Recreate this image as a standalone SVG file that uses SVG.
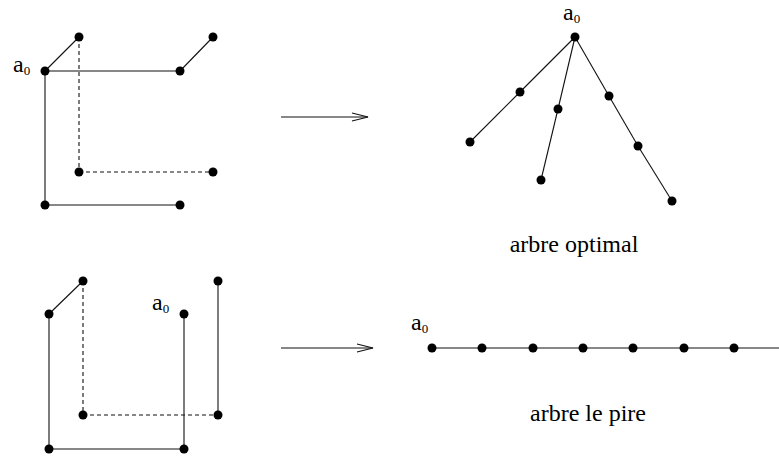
<svg xmlns="http://www.w3.org/2000/svg" width="779" height="456" viewBox="0 0 779 456">
  <style>
    .edge { stroke: #111; stroke-width: 1.1; fill: none; }
    .dash { stroke-dasharray: 4 3; }
    .dot { fill: #000; }
    .lbl { font-family: "Liberation Serif", "Times New Roman", serif; font-size: 24px; fill: #000; }
    .sub { font-size: 13px; }
    .cap { font-family: "Liberation Serif", "Times New Roman", serif; font-size: 24px; fill: #000; text-anchor: middle; }
  </style>
  <defs>
    <marker id="open-head" markerUnits="userSpaceOnUse" markerWidth="20" markerHeight="12" refX="16" refY="5" orient="auto" overflow="visible">
      <path d="M0,1 L16,5 L0,9" fill="none" stroke="#111" stroke-width="1.1"/>
    </marker>
  </defs>

  <!-- connectors -->
  <g id="connectors">
    <!-- graph 1 -->
    <line class="edge" x1="45" y1="71" x2="79" y2="37"/>
    <line class="edge" x1="45" y1="71" x2="180" y2="71"/>
    <line class="edge" x1="180" y1="71" x2="213" y2="37"/>
    <line class="edge" x1="45" y1="71" x2="45" y2="205"/>
    <line class="edge" x1="45" y1="205" x2="180" y2="205"/>
    <line class="edge dash" x1="79" y1="37" x2="79" y2="172"/>
    <line class="edge dash" x1="79" y1="172" x2="213" y2="172"/>
    <!-- optimal tree -->
    <line class="edge" x1="575" y1="37" x2="520" y2="92"/>
    <line class="edge" x1="520" y1="92" x2="470" y2="142"/>
    <line class="edge" x1="575" y1="37" x2="558" y2="109"/>
    <line class="edge" x1="558" y1="109" x2="541" y2="180"/>
    <line class="edge" x1="575" y1="37" x2="609" y2="96"/>
    <line class="edge" x1="609" y1="96" x2="638" y2="146"/>
    <line class="edge" x1="638" y1="146" x2="672" y2="201"/>
    <!-- graph 2 -->
    <line class="edge" x1="49" y1="314" x2="83" y2="281"/>
    <line class="edge dash" x1="83" y1="281" x2="83" y2="415"/>
    <line class="edge dash" x1="83" y1="415" x2="218" y2="415"/>
    <line class="edge" x1="218" y1="415" x2="218" y2="281"/>
    <line class="edge" x1="49" y1="314" x2="49" y2="449"/>
    <line class="edge" x1="49" y1="449" x2="184" y2="449"/>
    <line class="edge" x1="184" y1="314" x2="184" y2="449"/>
    <!-- worst tree -->
    <line class="edge" x1="432" y1="348" x2="779" y2="348"/>
    <!-- arrows -->
    <line class="edge" x1="281" y1="117" x2="368" y2="117" marker-end="url(#open-head)"/>
    <line class="edge" x1="281" y1="348" x2="373" y2="348" marker-end="url(#open-head)"/>
  </g>

  <!-- graph 1 nodes -->
  <g id="g1-a0"><circle class="dot" cx="45" cy="71" r="4.5"/><text class="lbl" x="13" y="72">a<tspan class="sub" dy="3">0</tspan></text></g>
  <g id="g1-n1"><circle class="dot" cx="79" cy="37" r="4.5"/></g>
  <g id="g1-n2"><circle class="dot" cx="213" cy="37" r="4.5"/></g>
  <g id="g1-n3"><circle class="dot" cx="180" cy="71" r="4.5"/></g>
  <g id="g1-n4"><circle class="dot" cx="79" cy="172" r="4.5"/></g>
  <g id="g1-n5"><circle class="dot" cx="213" cy="172" r="4.5"/></g>
  <g id="g1-n6"><circle class="dot" cx="45" cy="205" r="4.5"/></g>
  <g id="g1-n7"><circle class="dot" cx="180" cy="205" r="4.5"/></g>

  <!-- optimal tree nodes -->
  <g id="t1-a0"><circle class="dot" cx="575" cy="37" r="4.5"/><text class="lbl" x="563" y="20">a<tspan class="sub" dy="3">0</tspan></text></g>
  <g id="t1-n1"><circle class="dot" cx="520" cy="92" r="4.5"/></g>
  <g id="t1-n2"><circle class="dot" cx="470" cy="142" r="4.5"/></g>
  <g id="t1-n3"><circle class="dot" cx="558" cy="109" r="4.5"/></g>
  <g id="t1-n4"><circle class="dot" cx="541" cy="180" r="4.5"/></g>
  <g id="t1-n5"><circle class="dot" cx="609" cy="96" r="4.5"/></g>
  <g id="t1-n6"><circle class="dot" cx="638" cy="146" r="4.5"/></g>
  <g id="t1-n7"><circle class="dot" cx="672" cy="201" r="4.5"/></g>
  <text id="cap-optimal" class="cap" x="574" y="252">arbre optimal</text>

  <!-- graph 2 nodes -->
  <g id="g2-n1"><circle class="dot" cx="83" cy="281" r="4.5"/></g>
  <g id="g2-n2"><circle class="dot" cx="49" cy="314" r="4.5"/></g>
  <g id="g2-a0"><circle class="dot" cx="184" cy="314" r="4.5"/><text class="lbl" x="152" y="310">a<tspan class="sub" dy="3">0</tspan></text></g>
  <g id="g2-n3"><circle class="dot" cx="218" cy="281" r="4.5"/></g>
  <g id="g2-n4"><circle class="dot" cx="83" cy="415" r="4.5"/></g>
  <g id="g2-n5"><circle class="dot" cx="218" cy="415" r="4.5"/></g>
  <g id="g2-n6"><circle class="dot" cx="49" cy="449" r="4.5"/></g>
  <g id="g2-n7"><circle class="dot" cx="184" cy="449" r="4.5"/></g>

  <!-- worst tree nodes -->
  <g id="t2-a0"><circle class="dot" cx="432" cy="348" r="4.5"/><text class="lbl" x="411" y="330">a<tspan class="sub" dy="3">0</tspan></text></g>
  <g id="t2-n1"><circle class="dot" cx="482" cy="348" r="4.5"/></g>
  <g id="t2-n2"><circle class="dot" cx="533" cy="348" r="4.5"/></g>
  <g id="t2-n3"><circle class="dot" cx="583" cy="348" r="4.5"/></g>
  <g id="t2-n4"><circle class="dot" cx="633" cy="348" r="4.5"/></g>
  <g id="t2-n5"><circle class="dot" cx="684" cy="348" r="4.5"/></g>
  <g id="t2-n6"><circle class="dot" cx="734" cy="348" r="4.5"/></g>
  <text id="cap-worst" class="cap" x="588" y="421">arbre le pire</text>
</svg>
